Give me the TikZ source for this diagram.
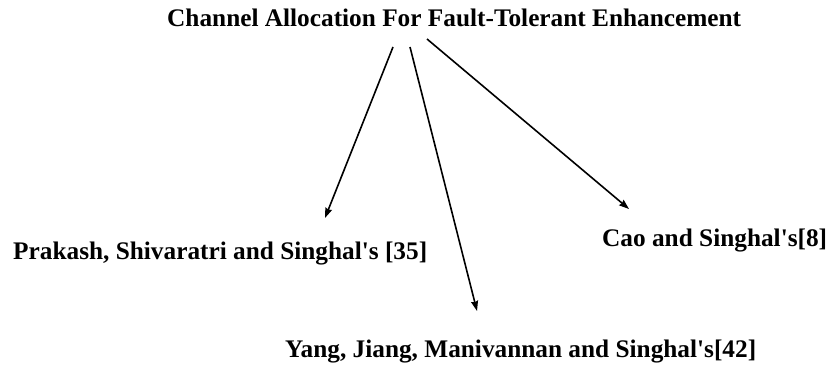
\documentclass[tikz,border=0pt]{standalone}
\usepackage{fontspec}
\setmainfont{Liberation Serif}
\usetikzlibrary{arrows.meta}
\tikzset{
  lbl/.style={anchor=base west, inner sep=0pt, font=\bfseries\fontsize{25.3}{30}\selectfont},
  arr/.style={line width=1.6pt, -{Stealth[length=10pt,width=7pt,inset=1pt]}}
}
\begin{document}
\begin{tikzpicture}[x=1pt,y=-1pt]
\useasboundingbox (0,0) rectangle (827,366);
\node[lbl] (title) at (167,27) {Channel Allocation For Fault-Tolerant Enhancement};
\node[lbl] (prakash) at (13,259) {Prakash, Shivaratri and Singhal\textquotesingle s [35]};
\node[lbl] (cao) at (602,247) {Cao and Singhal\textquotesingle s[8]};
\node[lbl] (yang) at (285,357) {Yang, Jiang, Manivannan and Singhal\textquotesingle s[42]};
\coordinate (s1) at (393,47);
\coordinate (s2) at (410,47);
\coordinate (s3) at (427,39);
\coordinate (e1) at (325,218);
\coordinate (e2) at (477,311);
\coordinate (e3) at (629,209);
\draw[arr] (s1) -- (e1);
\draw[arr] (s2) -- (e2);
\draw[arr] (s3) -- (e3);
\end{tikzpicture}
\end{document}
